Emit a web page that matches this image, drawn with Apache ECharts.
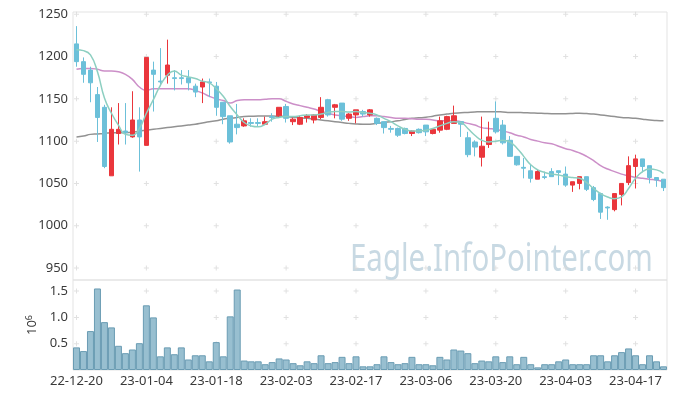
<!DOCTYPE html>
<html>
<head>
<meta charset="utf-8">
<script src="https://cdn.jsdelivr.net/npm/echarts@6/dist/echarts.min.js"></script>
<style>
  html, body { margin: 0; padding: 0; background: #fff; }
  #chart { width: 677px; height: 398px; }
</style>
</head>
<body>
<div id="chart"></div>
<script>
// trading days (yy-mm-dd)
const dates = [
  '22-12-20','22-12-21','22-12-22','22-12-23','22-12-26','22-12-27','22-12-28','22-12-29',
  '23-01-02','23-01-03','23-01-04','23-01-05','23-01-06','23-01-09','23-01-10','23-01-11',
  '23-01-12','23-01-13','23-01-16','23-01-17','23-01-18','23-01-19','23-01-20','23-01-25',
  '23-01-26','23-01-27','23-01-30','23-01-31','23-02-01','23-02-02','23-02-03','23-02-06',
  '23-02-07','23-02-08','23-02-09','23-02-10','23-02-13','23-02-14','23-02-15','23-02-16',
  '23-02-17','23-02-20','23-02-21','23-02-22','23-02-23','23-02-24','23-02-27','23-02-28',
  '23-03-02','23-03-03','23-03-06','23-03-07','23-03-08','23-03-09','23-03-10','23-03-13',
  '23-03-14','23-03-15','23-03-16','23-03-17','23-03-20','23-03-21','23-03-22','23-03-23',
  '23-03-24','23-03-27','23-03-28','23-03-29','23-03-30','23-03-31','23-04-03','23-04-04',
  '23-04-05','23-04-06','23-04-07','23-04-10','23-04-11','23-04-12','23-04-13','23-04-14',
  '23-04-17','23-04-18','23-04-19','23-04-20','23-04-21'
];

// [open, close, low, high]
const ohlc = [
  [1215,1194,1188,1236],[1194,1179,1169,1199],[1184,1169,1146,1188],[1155,1128,1099,1164],
  [1140,1070,1068,1143],[1059,1114,1059,1140],[1109,1114,1096,1145],[1112,1110,1096,1145],
  [1105,1125,1104,1159],[1125,1105,1064,1140],[1095,1199,1095,1199],[1184,1179,1135,1194],
  [1171,1170,1165,1210],[1178,1190,1168,1220],[1175,1174,1160,1184],[1175,1174,1167,1184],
  [1175,1169,1160,1184],[1165,1158,1152,1168],[1164,1170,1145,1174],[1170,1169,1152,1174],
  [1165,1140,1130,1170],[1146,1129,1120,1146],[1130,1099,1097,1130],[1120,1116,1108,1144],
  [1118,1124,1117,1127],[1122,1121,1117,1127],[1122,1121,1117,1127],[1120,1123,1119,1129],
  [1129,1128,1123,1133],[1130,1140,1128,1140],[1141,1127,1122,1144],[1123,1126,1119,1128],
  [1120,1128,1119,1130],[1128,1130,1122,1132],[1125,1131,1121,1132],[1128,1140,1126,1152],
  [1149,1131,1129,1150],[1140,1143,1127,1144],[1145,1126,1124,1145],[1127,1132,1124,1133],
  [1131,1137,1121,1137],[1135,1132,1129,1137],[1131,1137,1129,1138],[1127,1121,1119,1128],
  [1123,1116,1109,1123],[1115,1114,1110,1118],[1115,1107,1105,1116],[1115,1109,1108,1116],
  [1109,1112,1106,1113],[1114,1110,1109,1115],[1119,1111,1106,1119],[1109,1114,1108,1115],
  [1113,1124,1110,1129],[1114,1129,1113,1130],[1121,1130,1121,1142],[1123,1120,1105,1123],
  [1104,1084,1081,1111],[1099,1093,1082,1101],[1081,1094,1070,1129],[1096,1105,1092,1123],
  [1127,1111,1109,1147],[1119,1098,1096,1125],[1101,1082,1082,1106],[1082,1072,1071,1082],
  [1069,1068,1056,1080],[1065,1056,1051,1072],[1055,1064,1055,1066],[1058,1057,1055,1064],
  [1064,1058,1058,1068],[1065,1063,1048,1065],[1061,1048,1046,1070],[1048,1052,1040,1052],
  [1050,1058,1043,1058],[1058,1043,1041,1058],[1045,1031,1029,1047],[1038,1016,1008,1039],
  [1022,1021,1007,1023],[1019,1038,1017,1038],[1037,1050,1024,1050],[1051,1071,1048,1082],
  [1070,1079,1044,1084],[1079,1070,1063,1079],[1071,1057,1050,1071],[1057,1054,1046,1057],
  [1055,1045,1041,1055]
];

// volume, millions of shares
const volume = [
  0.43,0.36,0.74,1.55,0.91,0.81,0.46,0.32,0.39,0.51,
  1.23,1.00,0.26,0.43,0.30,0.43,0.20,0.28,0.28,0.165,
  0.53,0.26,1.02,1.53,0.18,0.165,0.165,0.11,0.15,0.22,
  0.20,0.13,0.09,0.165,0.13,0.28,0.13,0.15,0.25,0.13,
  0.26,0.07,0.07,0.11,0.26,0.15,0.11,0.13,0.25,0.11,
  0.11,0.09,0.25,0.20,0.39,0.37,0.32,0.13,0.18,0.165,
  0.26,0.15,0.26,0.11,0.25,0.11,0.05,0.11,0.11,0.165,
  0.20,0.11,0.11,0.11,0.28,0.28,0.165,0.28,0.34,0.41,
  0.28,0.11,0.28,0.165,0.07
];

// moving averages as drawn (short / mid / long)
const maShort = [
  1208,1207,1202,1182,1151,1133,1119,1108,1107,1115,1133,1149,1166,1178,1183,1178,1176,1174,1171,1169,
  1162,1153,1141,1131,1122,1118,1117,1120,1126,1128,1129,1129,1130,1131,1131,1132,1134,1135,1135,1134.5,
  1135,1134,1133,1131,1127,1123,1118,1114,1112,1112,1113,1115,1118,1121,1123,1122,1115,1107,1101,1099,
  1100,1101,1099,1092,1082,1072,1066,1063,1061,1060,1058,1057,1056,1051,1044,1038,1034,1032,1034,1044,
  1056,1064,1067,1066,1062
];
const maMid = [
  1185,1186,1186,1185,1183,1183,1182,1179,1173,1164,1160,1162,1162,1162,1162,1162,1162,1160,1157,1153,
  1150,1148,1145,1148,1149,1149,1149,1149.5,1150,1150,1147,1144,1142,1140,1138,1135,1133,1131,1130,1129,
  1128,1129,1130,1130,1129,1128,1127,1127,1126.5,1126,1126,1125,1124,1124,1124,1123,1121,1119,1116,1115,
  1114,1112,1110,1107,1105,1102,1100,1098,1097,1094,1091,1089,1086,1082,1077,1071,1067,1064,1061,1059,
  1057,1056,1055,1054,1052
];
const maLong = [
  1105,1106,1108,1108.5,1109,1110,1110,1110,1110.5,1112,1113,1114,1115,1116,1117,1118,1119,1120,1121.5,1123,
  1124,1126,1127,1128,1129,1129.4,1129.7,1129.7,1129.7,1129.4,1129,1128.3,1127.7,1127,1126,1125,1124,1123,1122,1121,
  1120.3,1120,1120,1121,1122,1123,1124,1125.6,1127,1127.6,1128.2,1129.5,1131,1132,1133,1133.5,1134,1134.5,1134.8,1134.8,
  1134.8,1134.5,1134,1134,1133.6,1133.3,1133,1132.7,1132.5,1132.5,1132.5,1132.7,1133,1132.6,1132,1131,1130,1129,1128,1127.6,
  1127,1126,1125,1124.4,1124
];

// tick labels
const priceTicks = [950, 1000, 1050, 1100, 1150, 1200, 1250];
const volTicks = [0.5, 1.0, 1.5];
const labelEvery = 10;

const UP = '#ea363c';
const DOWN = '#6cc0d9';
const labelColor = '#3a3a3a';
const fontFamily = '"Noto Sans", "DejaVu Sans", sans-serif';

// small "+" marks where ticks cross
const markDates = dates.filter((d, i) => i % labelEvery === 0);
const priceMarks = [];
markDates.forEach(d => priceTicks.forEach(v => priceMarks.push([d, v])));
const volMarks = [];
markDates.forEach(d => volTicks.forEach(v => volMarks.push([d, v])));
const plus = 'path://M2,0H3V5H2Z M0,2H5V3H0Z';

const chart = echarts.init(document.getElementById('chart'));
const option = {
  animation: false,
  backgroundColor: '#fff',
  textStyle: { fontFamily: fontFamily },
  grid: [
    { left: 73, right: 10, top: 12, height: 268, show: true, borderColor: '#e3e3e3', borderWidth: 1 },
    { left: 73, right: 10, top: 280, height: 90, show: true, borderColor: '#e3e3e3', borderWidth: 1 }
  ],
  graphic: [
    {
      type: 'text',
      x: 350,
      y: 241,
      scaleX: 0.775,
      z: 0,
      silent: true,
      style: {
        text: 'Eagle.InfoPointer.com',
        font: '38px "Noto Sans", sans-serif',
        fill: '#c8d9e3'
      }
    }
  ],
  xAxis: [
    {
      type: 'category',
      gridIndex: 0,
      data: dates,
      axisLine: { show: false },
      axisTick: { show: false },
      axisLabel: { show: false },
      splitLine: { show: false }
    },
    {
      type: 'category',
      gridIndex: 1,
      data: dates,
      axisLine: { show: false },
      axisTick: { show: false },
      axisLabel: {
        interval: labelEvery - 1,
        color: labelColor,
        fontSize: 13,
        margin: 5,
        fontFamily: fontFamily
      },
      splitLine: { show: false }
    }
  ],
  yAxis: [
    {
      type: 'value',
      gridIndex: 0,
      min: 935.8,
      max: 1252.7,
      splitNumber: 6,
      axisLine: { show: false },
      axisTick: { show: false },
      splitLine: { show: false },
      axisLabel: {
        showMinLabel: false,
        showMaxLabel: false,
        color: labelColor,
        fontSize: 13,
        margin: 5,
        fontFamily: fontFamily,
        formatter: v => (priceTicks.indexOf(v) >= 0 ? String(v) : '')
      }
    },
    {
      type: 'value',
      gridIndex: 1,
      min: 0,
      max: 1.711,
      interval: 0.5,
      name: '{b|10}{s|6}',
      nameLocation: 'middle',
      nameRotate: 90,
      nameGap: 32,
      nameTextStyle: {
        rich: {
          b: { fontSize: 13, color: labelColor, fontFamily: fontFamily },
          s: { fontSize: 9, color: labelColor, fontFamily: fontFamily, verticalAlign: 'top', padding: [0, 0, 6, 0] }
        }
      },
      axisLine: { show: false },
      axisTick: { show: false },
      splitLine: { show: false },
      axisLabel: {
        showMinLabel: false,
        showMaxLabel: false,
        color: labelColor,
        fontSize: 13,
        margin: 5,
        fontFamily: fontFamily,
        formatter: v => (volTicks.indexOf(v) >= 0 ? v.toFixed(1) : '')
      }
    }
  ],
  series: [
    {
      type: 'scatter',
      xAxisIndex: 0,
      yAxisIndex: 0,
      data: priceMarks,
      symbol: plus,
      symbolSize: 5,
      silent: true,
      z: 1,
      itemStyle: { color: '#d9d9d9' }
    },
    {
      type: 'scatter',
      xAxisIndex: 1,
      yAxisIndex: 1,
      data: volMarks,
      symbol: plus,
      symbolSize: 5,
      silent: true,
      z: 1,
      itemStyle: { color: '#d9d9d9' }
    },
    {
      name: 'MA long',
      type: 'line',
      data: maLong,
      smooth: true,
      showSymbol: false,
      z: 3,
      lineStyle: { color: '#929292', width: 1.5 }
    },
    {
      name: 'MA mid',
      type: 'line',
      data: maMid,
      smooth: true,
      showSymbol: false,
      z: 3,
      lineStyle: { color: '#cc8fc8', width: 1.5 }
    },
    {
      name: 'candle',
      type: 'candlestick',
      data: ohlc,
      barWidth: 5,
      z: 4,
      itemStyle: {
        color: UP,
        color0: DOWN,
        borderColor: UP,
        borderColor0: DOWN,
        borderWidth: 1
      }
    },
    {
      name: 'MA short',
      type: 'line',
      data: maShort,
      smooth: true,
      showSymbol: false,
      z: 5,
      lineStyle: { color: '#8dcfc1', width: 1.5 }
    },
    {
      name: 'volume',
      type: 'bar',
      xAxisIndex: 1,
      yAxisIndex: 1,
      data: volume,
      barCategoryGap: '0%',
      z: 2,
      itemStyle: { color: '#98bfd0', borderColor: '#6a9cb3', borderWidth: 1 }
    }
  ]
};
chart.setOption(option);
</script>
</body>
</html>
